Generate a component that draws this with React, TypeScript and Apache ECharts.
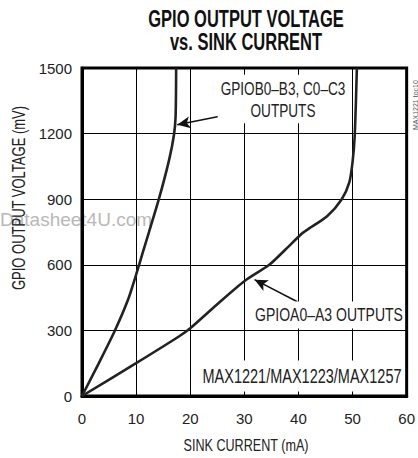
import React, { useEffect, useRef } from "react";
import * as echarts from "echarts";

const xTicks = [0, 10, 20, 30, 40, 50, 60];
const yTicks = [0, 300, 600, 900, 1200, 1500];

// GPIOB0–B3, C0–C3 outputs
const currentB = [0, 3, 6, 8.5, 10, 11.4, 14.2, 16.1, 17.0, 17.3, 17.4];
const voltageB = [0, 145, 295, 440, 555, 670, 900, 1080, 1195, 1280, 1500];

// GPIOA0–A3 outputs
const currentA = [0, 10, 17.9, 20, 25, 30, 34.6, 37.6, 40.5, 41.6, 45.3, 48.0, 49.4, 50.0, 50.4, 50.8];
const voltageA = [0, 150, 272, 310, 420, 525, 600, 670, 740, 760, 822, 900, 977, 1070, 1190, 1500];

// annotation arrows [tail, head] in data units
const arrowB = [[25.5, 1279], [17.6, 1240]];
const arrowA = [[39.8, 431], [31.9, 532]];

const FONT = "'Liberation Sans', Arial, sans-serif";

export default function App() {
  const ref = useRef<HTMLDivElement>(null);
  useEffect(() => {
    const chart = echarts.init(ref.current!, null, { renderer: "svg" });
    const pairs = (xs: number[], ys: number[]) => xs.map((x, i) => [x, ys[i]]);
    const txt = (text: string, x: number, y: number, size: number, sy: number, extra: any = {}, styleExtra: any = {}) => ({
      type: "text", x, y, scaleY: sy, z: 100, ...extra,
      style: {
        text, font: `${size}px ${FONT}`, fill: "#222", align: "center", verticalAlign: "middle",
        ...styleExtra,
      },
    });
    chart.setOption({
      animation: false,
      backgroundColor: "#fff",
      textStyle: { fontFamily: FONT },
      grid: {
        left: 82, right: 7, top: 68, bottom: 62,
        show: true, borderColor: "#000", borderWidth: 3, backgroundColor: "transparent",
      },
      xAxis: {
        type: "value", min: xTicks[0], max: xTicks[xTicks.length - 1], interval: 10,
        axisLine: { show: true, lineStyle: { color: "#000", width: 3 } },
        axisTick: { show: false },
        splitLine: { show: true, lineStyle: { color: "#000", width: 1 } },
        axisLabel: { color: "#222", fontSize: 15, fontFamily: FONT, margin: 15, formatter: (v: number) => String(v) },
      },
      yAxis: {
        type: "value", min: yTicks[0], max: yTicks[yTicks.length - 1], interval: 300,
        axisLine: { show: true, lineStyle: { color: "#000", width: 3 } },
        axisTick: { show: false },
        splitLine: { show: true, lineStyle: { color: "#000", width: 1 } },
        axisLabel: { color: "#222", fontSize: 15, fontFamily: FONT, margin: 10, formatter: (v: number) => String(v) },
      },
      graphic: [
        {
          type: "text", x: 246, y: 18, scaleY: 1.45, z: 100,
          style: { text: "GPIO OUTPUT VOLTAGE", font: `bold 16.5px ${FONT}`, fill: "#111", align: "center", verticalAlign: "middle" },
        },
        {
          type: "text", x: 246, y: 41, scaleY: 1.45, z: 100,
          style: { text: "vs. SINK CURRENT", font: `bold 16.5px ${FONT}`, fill: "#111", align: "center", verticalAlign: "middle" },
        },
        txt("GPIO OUTPUT VOLTAGE (mV)", 19, 198, 13, 1.35, { rotation: Math.PI / 2 }),
        txt("SINK CURRENT (mA)", 246, 445, 12.6, 1.35),
        {
          type: "text", x: 0, y: 219, z: -10,
          style: {
            text: "Datasheet4U.com", font: "19px 'Liberation Sans', Arial, sans-serif", fill: "#b8b8b8",
            align: "left", verticalAlign: "middle",
          },
        },
        {
          type: "text", x: 415, y: 130, rotation: Math.PI / 2, z: 100,
          style: {
            text: "MAX1221 toc10", font: `7px ${FONT}`, fill: "#555",
            align: "left", verticalAlign: "middle",
          },
        },
        txt("GPIOB0–B3, C0–C3\nOUTPUTS", 283, 99, 13.6, 1.35, {}, { lineHeight: 16, backgroundColor: "#fff", padding: [2, 3, 2, 3] }),
        txt("GPIOA0–A3 OUTPUTS", 329, 315, 14, 1.35, {}, { backgroundColor: "#fff", padding: [3, 2, 3, 2] }),
        txt("MAX1221/MAX1223/MAX1257", 302, 376, 14.5, 1.35, {}, { backgroundColor: "#fff", padding: [4, 2, 4, 2] }),
      ],
      series: [
        {
          type: "line", data: pairs(currentB, voltageB), showSymbol: false, smooth: 0.25,
          lineStyle: { color: "#222", width: 2.6 }, z: 5,
        },
        {
          type: "line", data: pairs(currentA, voltageA), showSymbol: false, smooth: 0.25,
          lineStyle: { color: "#222", width: 2.6 }, z: 5,
          markLine: {
            silent: true, symbol: ["none", "arrow"], symbolSize: [9, 13],
            label: { show: false },
            lineStyle: { color: "#111", width: 1.5, type: "solid" },
            data: [
              [{ coord: arrowB[0] }, { coord: arrowB[1] }],
              [{ coord: arrowA[0] }, { coord: arrowA[1] }],
            ],
          },
        },
      ],
    });
    return () => chart.dispose();
  }, []);
  return <div ref={ref} style={{ width: 418, height: 458, position: "absolute", left: 0, top: 0 }} />;
}
